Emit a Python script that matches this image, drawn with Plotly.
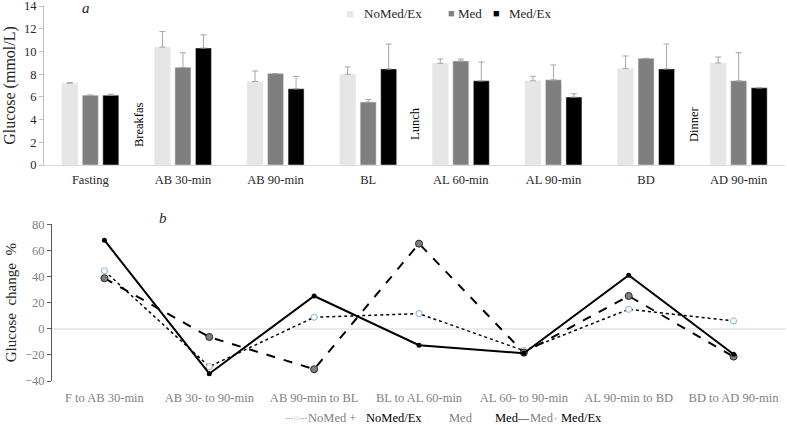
import plotly.graph_objects as go

# ---- data: panel a (bars) ----
bar_cats = ["Fasting", "AB 30-min", "AB 90-min", "BL", "AL 60-min", "AL 90-min", "BD", "AD 90-min"]
nomed_ex = [7.2, 10.38, 7.35, 7.99, 8.95, 7.41, 8.49, 8.98]
nomed_ex_err = [0.05, 1.37, 0.93, 0.64, 0.38, 0.40, 1.11, 0.53]
med = [6.15, 8.6, 8.05, 5.54, 9.16, 7.5, 9.39, 7.41]
med_err = [0.0, 1.28, 0.0, 0.23, 0.17, 1.31, 0.0, 2.48]
med_ex = [6.15, 10.3, 6.71, 8.46, 7.41, 5.98, 8.46, 6.8]
med_ex_err = [0.08, 1.16, 1.10, 2.19, 1.66, 0.29, 2.19, 0.0]

# ---- data: panel b (lines) ----
line_cats = ["F to AB 30-min", "AB 30- to 90-min", "AB 90-min to BL", "BL to AL 60-min",
             "AL 60- to 90-min", "AL 90-min to BD", "BD to AD 90-min"]
chg_nomed_ex = [44.3, -29.0, 8.8, 11.6, -16.7, 14.9, 6.0]
chg_med = [38.7, -6.3, -31.0, 65.2, -18.3, 25.1, -21.3]
chg_med_ex = [67.8, -34.4, 25.1, -12.6, -18.8, 41.0, -19.5]

FONT = "Times New Roman, Liberation Serif, serif"
W, H = 787, 425

fig = go.Figure()

def err(e):
    return dict(type="data", symmetric=False, array=e, arrayminus=[0]*len(e),
                color="#a6a6a6", thickness=1, width=3)

fig.add_trace(go.Bar(x=bar_cats, y=nomed_ex, name="NoMed/Ex", marker_color="#e7e6e6",
                     error_y=err(nomed_ex_err), xaxis="x", yaxis="y"))
fig.add_trace(go.Bar(x=bar_cats, y=med, name="Med", marker_color="#7f7f7f",
                     error_y=err(med_err), xaxis="x", yaxis="y"))
fig.add_trace(go.Bar(x=bar_cats, y=med_ex, name="Med/Ex", marker_color="#000000",
                     error_y=err(med_ex_err), xaxis="x", yaxis="y"))

fig.add_trace(go.Scatter(x=line_cats, y=chg_nomed_ex, mode="lines+markers", name="NoMed/Ex",
                         line=dict(color="#000000", width=1.5, dash="dot"),
                         marker=dict(symbol="circle", size=6, color="#ffffff",
                                     line=dict(color="#9dc3e6", width=1.2)),
                         xaxis="x2", yaxis="y2"))
fig.add_trace(go.Scatter(x=line_cats, y=chg_med, mode="lines+markers", name="Med",
                         line=dict(color="#000000", width=2, dash="dash"),
                         marker=dict(symbol="circle", size=7, color="#7f7f7f",
                                     line=dict(color="#262626", width=1)),
                         xaxis="x2", yaxis="y2"))
fig.add_trace(go.Scatter(x=line_cats, y=chg_med_ex, mode="lines+markers", name="Med/Ex",
                         line=dict(color="#000000", width=2),
                         marker=dict(symbol="circle", size=5, color="#000000"),
                         xaxis="x2", yaxis="y2"))

tickfont_top = dict(family=FONT, size=12.5, color="#262626")
tickfont_bot = dict(family=FONT, size=12.5, color="#7f7f7f")

fig.update_layout(
    width=W, height=H,
    margin=dict(l=0, r=0, t=0, b=0, autoexpand=False),
    paper_bgcolor="white", plot_bgcolor="white",
    showlegend=False,
    barmode="group", bargap=0.336, bargroupgap=0.22,
    font=dict(family=FONT, color="#000000"),
    xaxis=dict(domain=[44/W, 785/W], anchor="y", showline=True, linecolor="#d9d9d9",
               linewidth=1, ticks="", tickfont=tickfont_top, showgrid=False, automargin=False,
               range=[-0.5, 7.5], ticklabelstandoff=3),
    yaxis=dict(domain=[1-165/H, 1-6/H], anchor="x", range=[0, 14], dtick=2,
               showline=True, linecolor="#bfbfbf", ticks="outside", ticklen=4,
               tickcolor="#bfbfbf", tickfont=tickfont_top, showgrid=False, zeroline=False,
               automargin=False, ticklabeloverflow="allow",
               title=dict(text="Glucose (mmol/L)", font=dict(family=FONT, size=16, color="#262626"),
                          standoff=4)),
    xaxis2=dict(domain=[52/W, 786/W], anchor="y2", showline=False, ticks="",
                tickfont=tickfont_bot, showgrid=False, automargin=False,
                range=[-0.5, 6.5], ticklabelstandoff=7),
    yaxis2=dict(domain=[1-381/H, 1-224.3/H], anchor="x2", range=[-40, 80], dtick=20,
                showline=True, linecolor="#595959", ticks="outside", ticklen=4,
                tickcolor="#595959", tickfont=tickfont_bot, showgrid=False,
                zeroline=True, zerolinecolor="#ebebeb", zerolinewidth=1.5, automargin=False,
                ticklabeloverflow="allow",
                title=dict(text="Glucose  change  %", font=dict(family=FONT, size=15, color="#262626"),
                           standoff=4)),
)

def txt(text, px, py, size=13, color="#262626", xanchor="center", angle=0):
    return dict(text=text, x=px/W, y=1-py/H, xref="paper", yref="paper",
                xanchor=xanchor, yanchor="middle", textangle=angle, showarrow=False,
                font=dict(family=FONT, size=size, color=color))

ann = []
ann.append(txt("<i>a</i>", 86, 8, size=15))
ann.append(txt("<i>b</i>", 163, 218, size=15))
for t, px, py in [("Breakfas", 139, 125), ("Lunch", 415, 124), ("Dinner", 694, 124)]:
    ann.append(txt(t, px, py, size=12.5, color="#000000", angle=-90))

# top legend pieces
ann.append(txt("■", 350, 13, size=13, color="#e7e6e6"))
ann.append(txt("NoMed/Ex", 362, 13, size=13, xanchor="left"))
ann.append(txt("■", 451, 13, size=11, color="#7f7f7f"))
ann.append(txt("Med", 456, 13, size=13, xanchor="left"))
ann.append(txt("■", 496, 13, size=11, color="#000000"))
ann.append(txt("Med/Ex", 507, 13, size=13, xanchor="left"))

# bottom legend pieces
LY = 418
ann.append(txt("<span style='color:#262626'>···</span><span style='color:#9dc3e6'>○</span>"
               "<span style='color:#262626'>···</span>", 283, LY, size=8.5, xanchor="left"))
ann.append(txt("NoMed +", 306, LY, size=12.5, color="#7f7f7f", xanchor="left"))
ann.append(txt("NoMed/Ex", 364, LY, size=12.5, color="#000000", xanchor="left"))
ann.append(txt("Med", 447, LY, size=12.5, color="#7f7f7f", xanchor="left"))
ann.append(txt("Med", 493, LY, size=12.5, color="#000000", xanchor="left"))
ann.append(txt("<b>—</b>", 515, LY, size=11, color="#000000", xanchor="left"))
ann.append(txt("Med", 528, LY, size=12.5, color="#7f7f7f", xanchor="left"))
ann.append(txt("+", 551, LY, size=9, color="#bfbfbf", xanchor="left"))
ann.append(txt("Med/Ex", 559, LY, size=12.5, color="#000000", xanchor="left"))
fig.update_layout(annotations=ann)

fig.write_html("out.html", config={"displayModeBar": False},
               post_script="document.body.style.margin='0';")
